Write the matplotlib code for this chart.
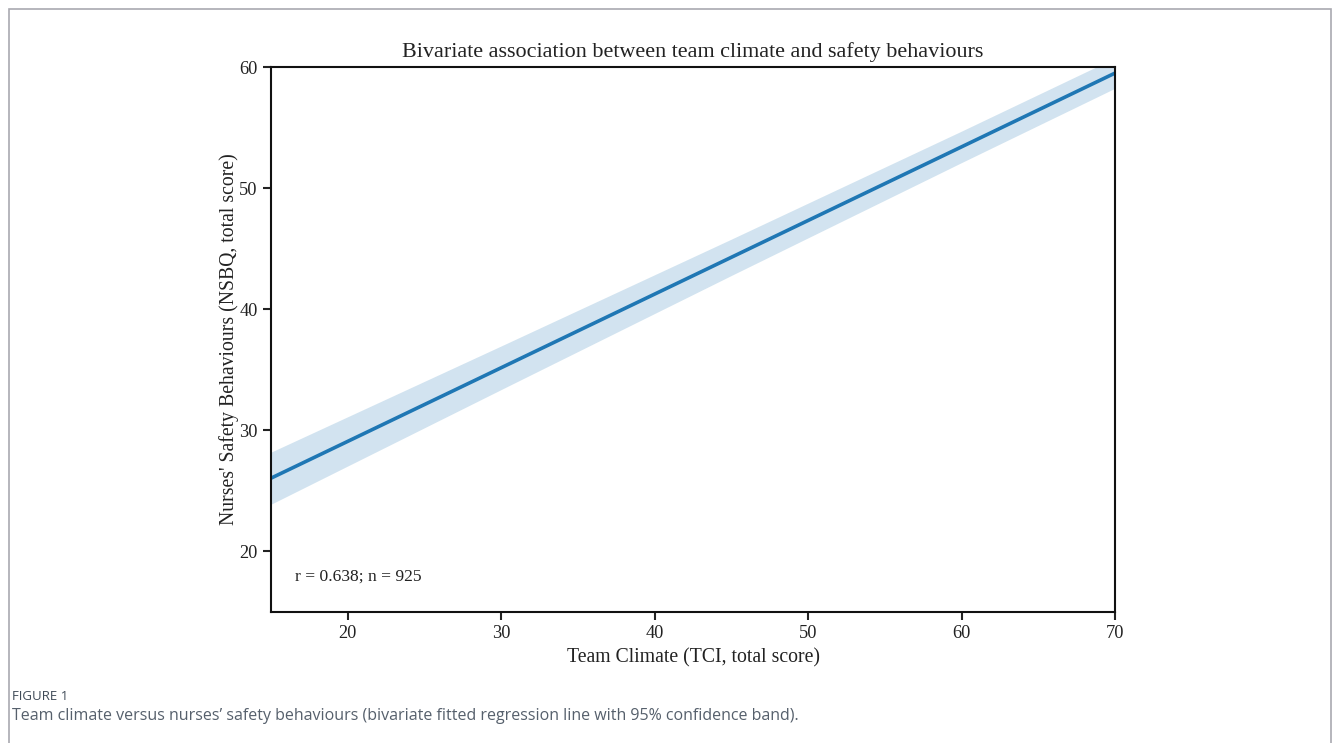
import numpy as np
import matplotlib.pyplot as plt
from matplotlib.patches import Rectangle

# fitted line and 95% CI
tci = [15, 30, 45, 60, 70]
fit = [26.05, 35.17, 44.29, 53.41, 59.50]
ci_lo = [23.90, 33.37, 42.79, 52.11, 58.25]
ci_hi = [28.20, 36.97, 45.79, 54.71, 60.75]

xticks = [20, 30, 40, 50, 60, 70]
yticks = [20, 30, 40, 50, 60]

plt.rcParams["font.family"] = ["Liberation Serif", "DejaVu Serif"]

fig = plt.figure(figsize=(13.33, 7.43), dpi=100)
ax = fig.add_axes([0.2033, 0.1763, 0.6332, 0.7335])

ax.fill_between(tci, ci_lo, ci_hi, color="#1f77b4", alpha=0.2, lw=0)
ax.plot(tci, fit, color="#1f77b4", lw=2.6)

ax.set_xlim(15, 70)
ax.set_ylim(15, 60)
ax.set_xticks(xticks)
ax.set_yticks(yticks)
ax.tick_params(labelsize=13.2, length=6, width=1.5, colors="#222222")
for s in ax.spines.values():
    s.set_linewidth(1.5)
    s.set_color("#111111")

ax.set_title("Bivariate association between team climate and safety behaviours",
             fontsize=15.9, pad=7, color="#222222")
ax.set_xlabel("Team Climate (TCI, total score)", fontsize=14.2, color="#222222")
ax.set_ylabel("Nurses' Safety Behaviours (NSBQ, total score)", fontsize=14.2,
              color="#222222", labelpad=0)
ax.text(0.028, 0.05, "r = 0.638; n = 925", transform=ax.transAxes,
        fontsize=12.6, ha="left", va="bottom", color="#222222")

# frame of the figure page and caption
fig.patches.append(Rectangle((9 / 1333, -0.1), 1322 / 1333, 1.1 - 9 / 743,
                             transform=fig.transFigure, fill=False,
                             ec="#a9a9b0", lw=1.2))
fig.text(12 / 1333, 1 - 697 / 743, "FIGURE 1", fontsize=9.5, color="#3f4a57",
         family=["Open Sans", "DejaVu Sans"], va="center", ha="left")
fig.text(12 / 1333, 1 - 716 / 743,
         "Team climate versus nurses\u2019 safety behaviours (bivariate fitted regression line with 95% confidence band).",
         fontsize=11.55, color="#56606c", family=["Open Sans", "DejaVu Sans"],
         va="center", ha="left")

fig.savefig("out.png", dpi=100)
